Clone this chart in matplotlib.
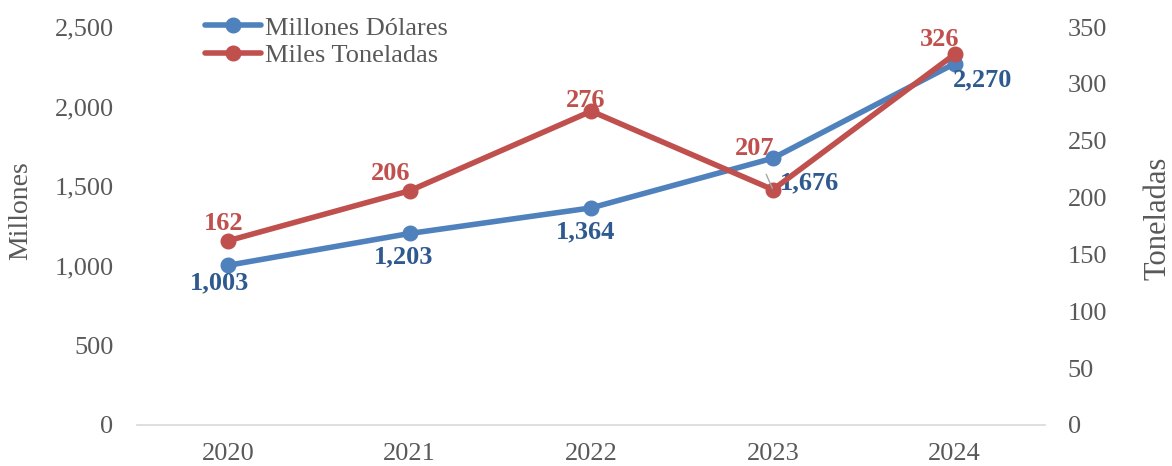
import matplotlib
matplotlib.use("Agg")
import matplotlib.pyplot as plt

years = ["2020", "2021", "2022", "2023", "2024"]
millones_dolares = [1003, 1203, 1364, 1676, 2270]
miles_toneladas = [162, 206, 276, 207, 326]

plt.rcParams['font.family'] = ['Liberation Serif', 'DejaVu Serif']

BLUE = "#4F81BD"
RED = "#C0504D"
BLUE_TXT = "#2F5A8F"
RED_TXT = "#C0504D"
GRAY = "#595959"

fig = plt.figure(figsize=(11.72, 4.66), dpi=100)
ax = fig.add_axes([0.117, 0.088, 0.775, 0.854])
ax2 = ax.twinx()

x = list(range(len(years)))
l1, = ax.plot(x, millones_dolares, color=BLUE, lw=4, marker='o', ms=10.5,
              solid_capstyle='round', label="Millones Dólares", zorder=3)
l2, = ax2.plot(x, miles_toneladas, color=RED, lw=4, marker='o', ms=10.5,
               solid_capstyle='round', label="Miles Toneladas", zorder=3)

ax.set_xlim(-0.5, 4.5)
ax.set_ylim(0, 2500)
ax2.set_ylim(0, 350)
ax.set_yticks(range(0, 2501, 500))
ax2.set_yticks(range(0, 351, 50))
ax.set_yticklabels([f"{v:,}" for v in range(0, 2501, 500)])
ax.set_xticks(x)
ax.set_xticklabels(years)

for a in (ax, ax2):
    for s in a.spines.values():
        s.set_visible(False)
    a.tick_params(length=0, labelsize=19, colors=GRAY)
ax.spines['bottom'].set_visible(True)
ax.spines['bottom'].set_color("#D9D9D9")
ax.spines['bottom'].set_linewidth(1.2)
ax.tick_params(axis='x', pad=13)
ax.tick_params(axis='y', pad=17)
ax2.tick_params(axis='y', pad=16)

fig.text(21 / 1172, 1 - 211 / 466, "Millones", rotation=90, ha='center',
         va='center', fontsize=20, color=GRAY)
fig.text(1158 / 1172, 1 - 218 / 466, "Toneladas", rotation=90, ha='center',
         va='center', fontsize=22, color=GRAY)

# label offsets in points
blue_off = [(-5.8, -12.5), (-4, -17), (-4.3, -17.3), (26.6, -18), (20, -11.3)]
for i, v in enumerate(millones_dolares):
    dx, dy = blue_off[i]
    ax.annotate(f"{v:,}", (i, v), xytext=(dx, dy), textcoords='offset points',
                ha='center', va='center', fontsize=19, fontweight='bold',
                color=BLUE_TXT, zorder=5)

red_off = [(-2.9, 12.5), (-13.7, 12.5), (-4.3, 7.5), (-13, 29.5), (-10.8, 10.8)]
for i, v in enumerate(miles_toneladas):
    dx, dy = red_off[i]
    kw = {}
    if i == 3:
        kw['arrowprops'] = dict(arrowstyle='-', color='#A6A6A6', lw=1,
                                shrinkA=9, shrinkB=1)
    ax2.annotate(f"{v}", (i, v), xytext=(dx, dy), textcoords='offset points',
                 ha='center', va='center', fontsize=19, fontweight='bold',
                 color=RED_TXT, zorder=5, **kw)

leg = ax.legend(handles=[l1, l2], loc='upper left', bbox_to_anchor=(0.075, 1.0275),
                frameon=False, fontsize=19, handlelength=2.1, handletextpad=0.15,
                labelspacing=0.16, borderpad=0, borderaxespad=0, labelcolor=GRAY)

fig.savefig("out.png", dpi=100)
